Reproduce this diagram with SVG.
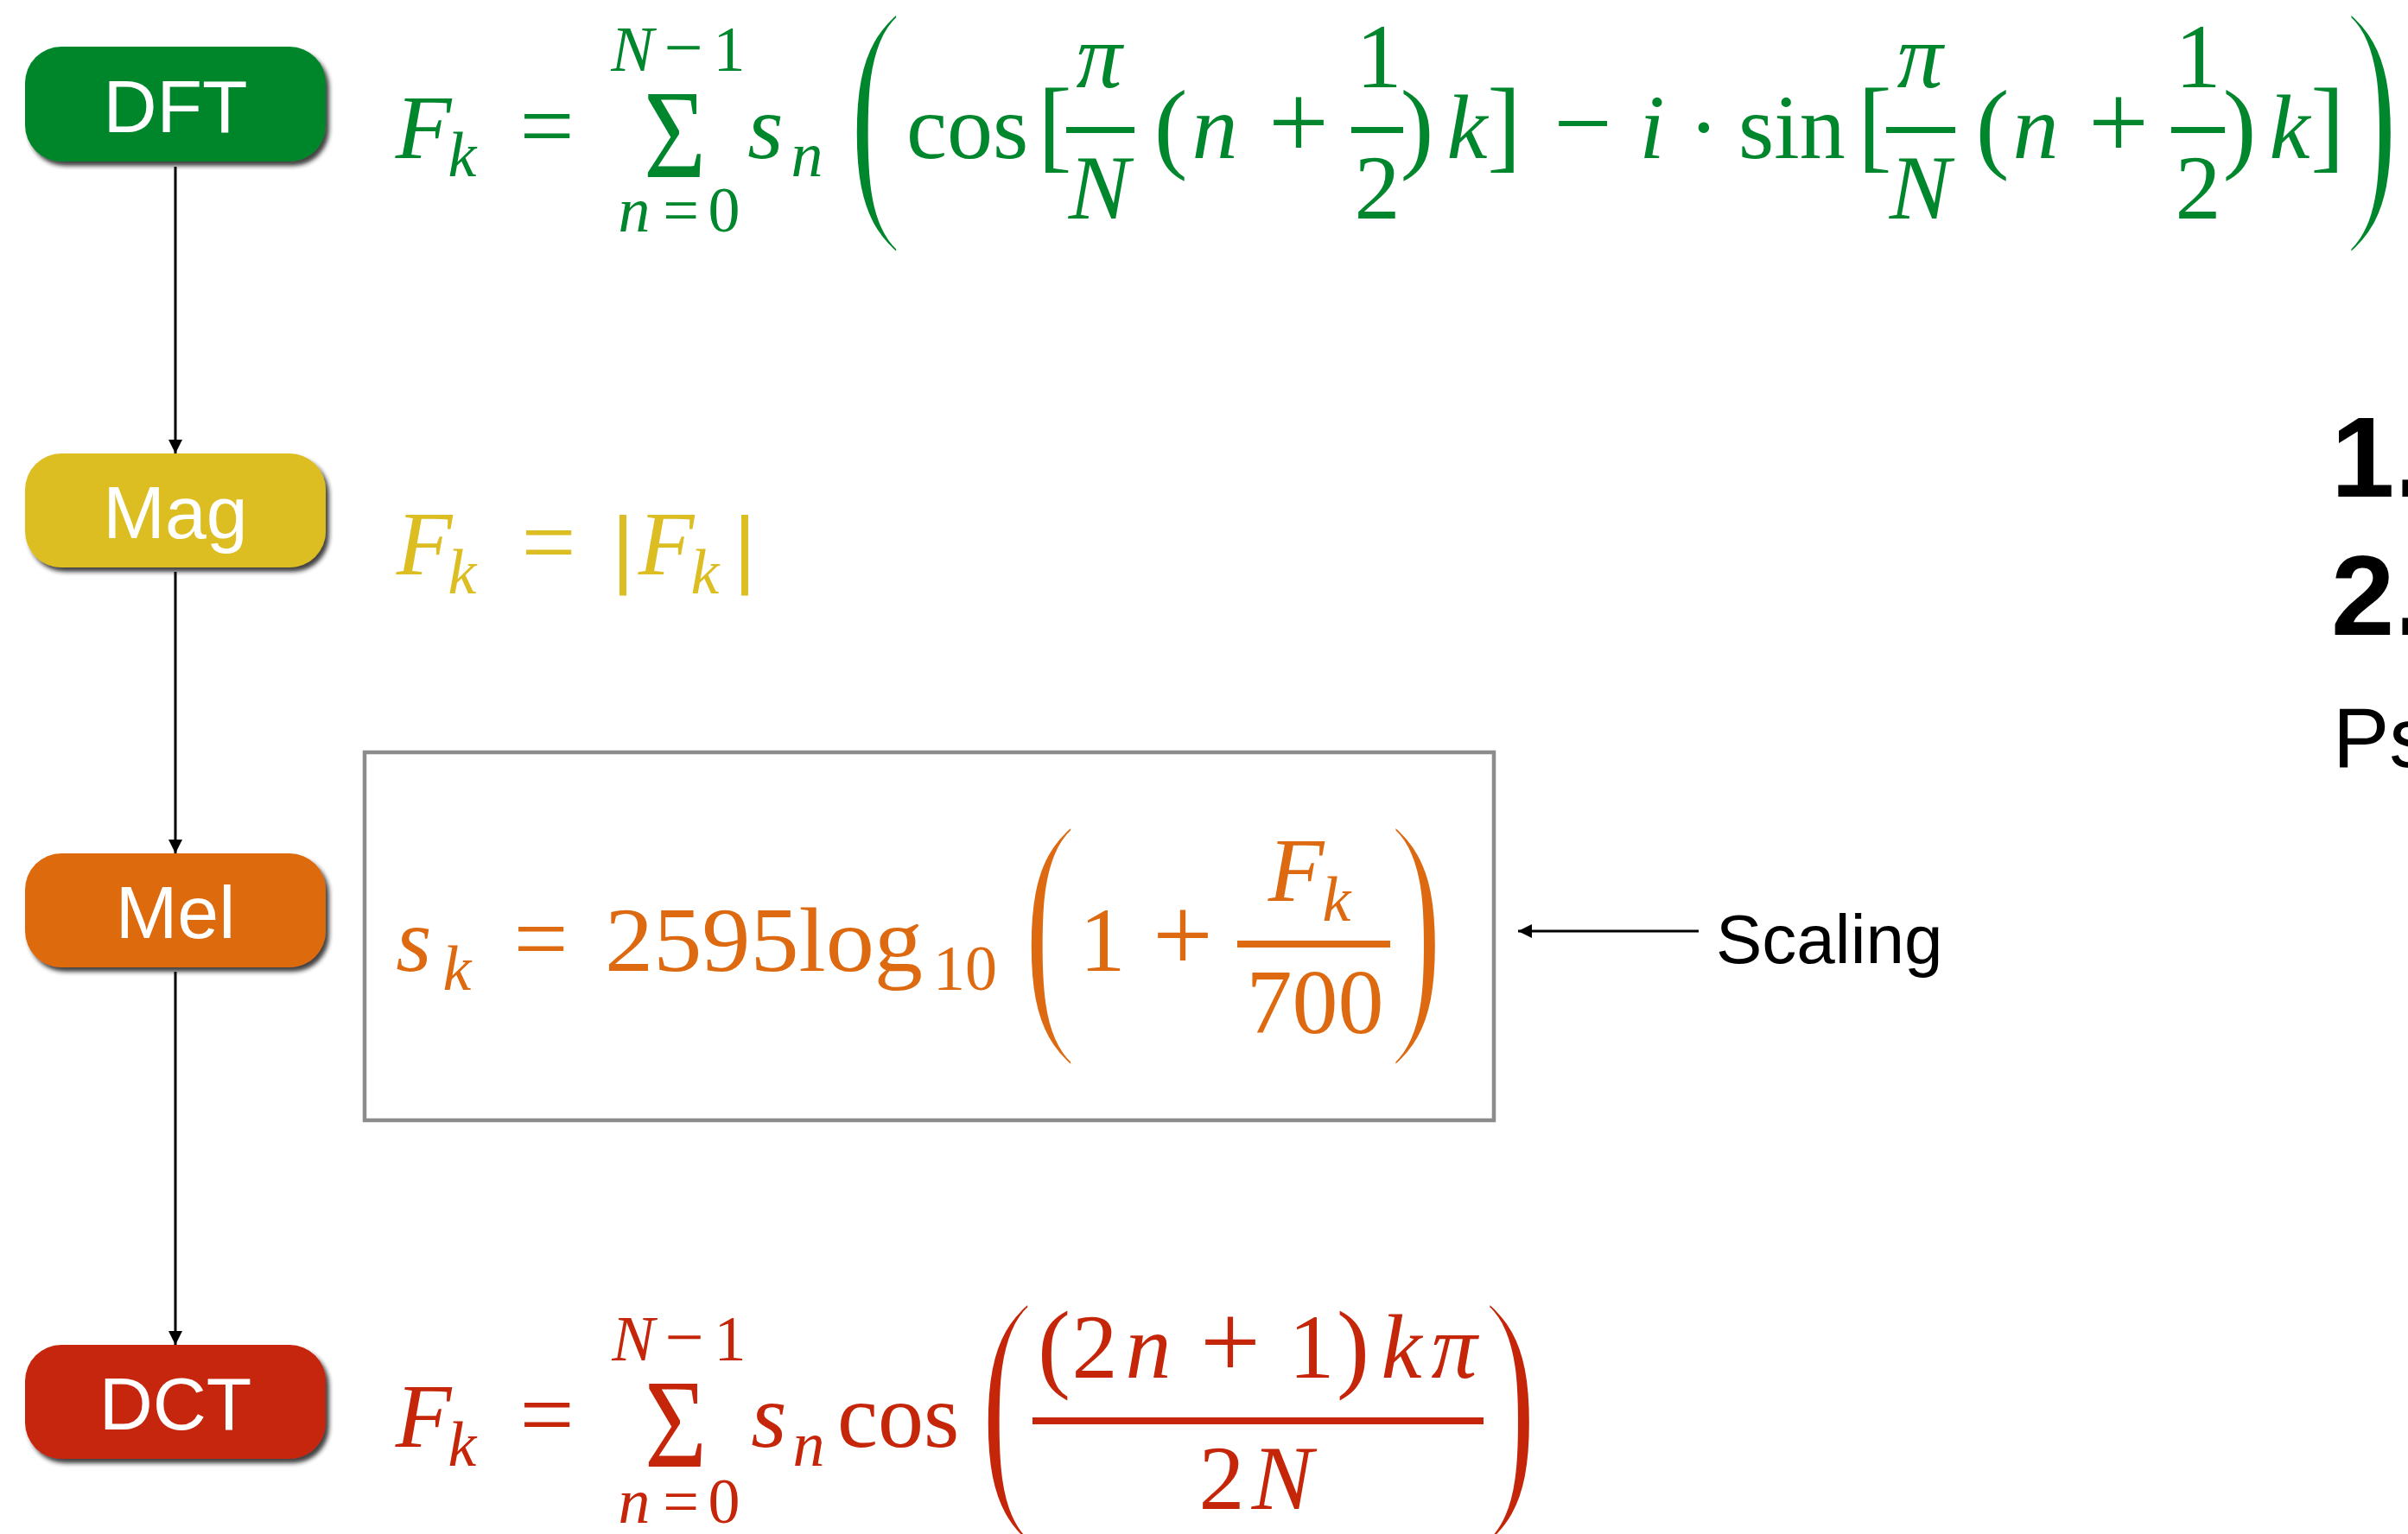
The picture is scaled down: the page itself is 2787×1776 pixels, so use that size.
<svg xmlns="http://www.w3.org/2000/svg" width="2787" height="1776" viewBox="0 0 2787 1776">
<style>
.node text{font-family:"Liberation Sans",Arial,sans-serif;font-size:86px;fill:#fff;text-anchor:middle}
.mi{font-family:"Liberation Serif","Times New Roman",serif;font-style:italic;text-anchor:middle}
.mr{font-family:"Liberation Serif","Times New Roman",serif;text-anchor:middle}
.ms{font-family:"Liberation Serif","Times New Roman",serif}
.big{font-family:"Liberation Serif","Times New Roman",serif;font-size:200px;stroke:#fff;stroke-width:6px}
.g{fill:#00862C}.y{fill:#DCBE22}.o{fill:#DD6A10}.r{fill:#C52508}
.bar{stroke:#DCBE22;stroke-width:3px}
.conn line{stroke:#000;stroke-width:3}
.lbl{font-family:"Liberation Sans",Arial,sans-serif;fill:#000}
</style>
<defs>
<filter id="sh" x="-10%" y="-10%" width="130%" height="140%">
<feDropShadow dx="4" dy="5" stdDeviation="2.5" flood-color="#222" flood-opacity="0.85"/>
</filter>
<marker id="ah" viewBox="0 0 10 10" refX="10" refY="5" markerWidth="17" markerHeight="16" markerUnits="userSpaceOnUse" orient="auto">
<path d="M0,0 L10,5 L0,10 Z" fill="#000"/>
</marker>
</defs>
<rect width="2787" height="1776" fill="#fff"/>

<g id="connectors" class="conn">
<line x1="203" y1="193" x2="203" y2="525" marker-end="url(#ah)"/>
<line x1="203" y1="662" x2="203" y2="988" marker-end="url(#ah)"/>
<line x1="203" y1="1125" x2="203" y2="1557" marker-end="url(#ah)"/>
<line x1="1966" y1="1078" x2="1757" y2="1078" stroke-width="3.5" marker-end="url(#ah)"/>
</g>

<g id="node-dft" class="node"><rect x="29" y="54" width="348" height="133" rx="42" fill="#00862C" filter="url(#sh)"/><text x="203" y="153">DFT</text></g>
<g id="node-mag" class="node"><rect x="29" y="525" width="348" height="132" rx="42" fill="#DCBE22" filter="url(#sh)"/><text x="203" y="623">Mag</text></g>
<g id="node-mel" class="node"><rect x="29" y="988" width="348" height="132" rx="42" fill="#DD6A10" filter="url(#sh)"/><text x="203" y="1086">Mel</text></g>
<g id="node-dct" class="node"><rect x="29" y="1557" width="348" height="132" rx="42" fill="#C52508" filter="url(#sh)"/><text x="203" y="1655">DCT</text></g>

<g id="formula-dft" class="g">
<text class="mi" x="490" y="183" font-size="106">F</text>
<text class="mi" x="535" y="204" font-size="74">k</text>
<text class="mr" x="633" y="183" font-size="112">=</text>
<text class="ms" x="745" y="205" font-size="147" textLength="72" lengthAdjust="spacingAndGlyphs">Σ</text>
<text class="mi" x="732" y="82" font-size="74">N</text>
<text class="mr" x="791" y="82" font-size="80">−</text>
<text class="mr" x="844" y="82" font-size="74">1</text>
<text class="mi" x="734" y="268" font-size="74">n</text>
<text class="mr" x="788" y="268" font-size="74">=</text>
<text class="mr" x="838" y="268" font-size="74">0</text>
<text class="mi" x="886" y="183" font-size="106">s</text>
<text class="mi" x="934" y="204" font-size="74">n</text>
<text class="big" transform="translate(980,231) scale(1,1.594)">(</text>
<text class="ms" x="1049" y="183" font-size="106">cos</text>
<text class="mr" x="1221" y="184" font-size="118">[</text>
<text class="mi" x="1272" y="101" font-size="106">π</text>
<rect x="1234" y="147" width="79" height="7"/>
<text class="mi" x="1272" y="253" font-size="106">N</text>
<text class="mr" x="1355" y="185" font-size="116">(</text>
<text class="mi" x="1406" y="183" font-size="106">n</text>
<text class="mr" x="1503" y="183" font-size="124">+</text>
<text class="mr" x="1596" y="101" font-size="106">1</text>
<rect x="1564" y="147" width="60" height="7"/>
<text class="mr" x="1594" y="253" font-size="106">2</text>
<text class="mr" x="1640" y="185" font-size="116">)</text>
<text class="mi" x="1698" y="183" font-size="106">k</text>
<text class="mr" x="1741" y="184" font-size="118">]</text>
<text class="mr" x="1832" y="183" font-size="120">−</text>
<text class="mi" x="1912" y="183" font-size="106">i</text>
<text class="mr" x="1972" y="183" font-size="106">·</text>
<text class="ms" x="2012" y="183" font-size="106">sin</text>
<text class="mr" x="2170" y="184" font-size="118">[</text>
<text class="mi" x="2222" y="101" font-size="106">π</text>
<rect x="2183" y="147" width="80" height="7"/>
<text class="mi" x="2222" y="253" font-size="106">N</text>
<text class="mr" x="2306" y="185" font-size="116">(</text>
<text class="mi" x="2356" y="183" font-size="106">n</text>
<text class="mr" x="2452" y="183" font-size="124">+</text>
<text class="mr" x="2544" y="101" font-size="106">1</text>
<rect x="2513" y="147" width="62" height="7"/>
<text class="mr" x="2544" y="253" font-size="106">2</text>
<text class="mr" x="2592" y="185" font-size="116">)</text>
<text class="mi" x="2650" y="183" font-size="106">k</text>
<text class="mr" x="2694" y="184" font-size="118">]</text>
<text class="big" transform="translate(2712,231) scale(1,1.594)">)</text>
</g>

<g id="formula-mag" class="y">
<text class="mi" x="491" y="665" font-size="106">F</text>
<text class="mi" x="535" y="687" font-size="74">k</text>
<text class="mr" x="635" y="665" font-size="112">=</text>
<text class="mr bar" x="721" y="667" font-size="100">|</text>
<text class="mi" x="771" y="665" font-size="106">F</text>
<text class="mi" x="816" y="687" font-size="74">k</text>
<text class="mr bar" x="862" y="667" font-size="100">|</text>
</g>

<g id="mel-box">
<rect x="422" y="871" width="1307" height="426" fill="none" stroke="#8A8C8E" stroke-width="4.5"/>
</g>
<g id="formula-mel" class="o">
<text class="mi" x="479" y="1124" font-size="106">s</text>
<text class="mi" x="529" y="1146" font-size="74">k</text>
<text class="mr" x="626" y="1124" font-size="112">=</text>
<text class="ms" x="700" y="1124" font-size="106" textLength="368" lengthAdjust="spacingAndGlyphs">2595log</text>
<text class="ms" x="1080" y="1146" font-size="74">10</text>
<text class="big" transform="translate(1182,1172) scale(1,1.594)">(</text>
<text class="mr" x="1276" y="1124" font-size="106">1</text>
<text class="mr" x="1369" y="1124" font-size="124">+</text>
<rect x="1432" y="1089" width="177" height="8"/>
<text class="mi" x="1500" y="1043" font-size="106">F</text>
<text class="mi" x="1547" y="1066" font-size="74">k</text>
<text class="mr" x="1522" y="1196" font-size="106">700</text>
<text class="big" transform="translate(1606,1172) scale(1,1.594)">)</text>
</g>

<g id="formula-dct" class="r">
<text class="mi" x="490" y="1675" font-size="106">F</text>
<text class="mi" x="535" y="1697" font-size="74">k</text>
<text class="mr" x="633" y="1675" font-size="112">=</text>
<text class="ms" x="746" y="1698" font-size="147" textLength="72" lengthAdjust="spacingAndGlyphs">Σ</text>
<text class="mi" x="733" y="1575" font-size="74">N</text>
<text class="mr" x="792" y="1575" font-size="80">−</text>
<text class="mr" x="845" y="1575" font-size="74">1</text>
<text class="mi" x="734" y="1763" font-size="74">n</text>
<text class="mr" x="788" y="1763" font-size="74">=</text>
<text class="mr" x="838" y="1763" font-size="74">0</text>
<text class="mi" x="890" y="1675" font-size="106">s</text>
<text class="mi" x="936" y="1697" font-size="74">n</text>
<text class="ms" x="969" y="1675" font-size="106">cos</text>
<text class="big" transform="translate(1132,1724) scale(1,1.594)">(</text>
<text class="mr" x="1220" y="1597" font-size="114">(</text>
<text class="mr" x="1267" y="1595" font-size="106">2</text>
<text class="mi" x="1329" y="1595" font-size="106">n</text>
<text class="mr" x="1424" y="1595" font-size="124">+</text>
<text class="mr" x="1518" y="1595" font-size="106">1</text>
<text class="mr" x="1566" y="1597" font-size="114">)</text>
<text class="mi" x="1622" y="1595" font-size="106">k</text>
<text class="mi" x="1683" y="1595" font-size="106">π</text>
<rect x="1195" y="1641" width="522" height="8"/>
<text class="mr" x="1414" y="1747" font-size="106">2</text>
<text class="mi" x="1484" y="1747" font-size="106">N</text>
<text class="big" transform="translate(1715,1724) scale(1,1.594)">)</text>
</g>

<g id="scaling-label"><text class="lbl" x="1986" y="1115" font-size="80">Scaling</text></g>

<g id="right-text" class="lbl">
<text x="2698" y="575" font-size="132" font-weight="bold">1.</text>
<text x="2698" y="735" font-size="132" font-weight="bold">2.</text>
<text x="2700" y="888" font-size="98">Ps</text>
</g>
</svg>
